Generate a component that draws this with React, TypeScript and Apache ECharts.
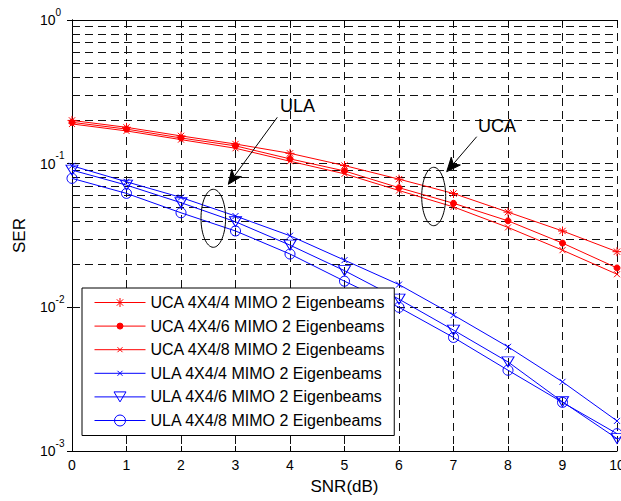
import React, { useEffect, useRef } from 'react';
import * as echarts from 'echarts';

const FONT = '"Liberation Sans", Arial, Helvetica, sans-serif';

const snr = [0, 1, 2, 3, 4, 5, 6, 7, 8, 9, 10];
const uca44 = [0.2, 0.179, 0.156, 0.137, 0.118, 0.097, 0.078, 0.062, 0.046, 0.034, 0.0244];
const uca46 = [0.194, 0.174, 0.151, 0.133, 0.108, 0.089, 0.068, 0.053, 0.04, 0.028, 0.0188];
const uca48 = [0.189, 0.169, 0.147, 0.128, 0.104, 0.085, 0.065, 0.05, 0.036, 0.025, 0.017];
const ula44 = [0.0967, 0.0748, 0.0582, 0.0432, 0.0315, 0.0213, 0.0144, 0.00883, 0.00531, 0.00303, 0.00162];
const ula46 = [0.0902, 0.0709, 0.0535, 0.0394, 0.0271, 0.018, 0.0114, 0.00694, 0.00417, 0.0022, 0.00122];
const ula48 = [0.079, 0.0621, 0.0455, 0.034, 0.0235, 0.0152, 0.01, 0.00617, 0.00365, 0.00218, 0.00132];

const seriesNames = [
  'UCA 4X4/4 MIMO 2 Eigenbeams',
  'UCA 4X4/6 MIMO 2 Eigenbeams',
  'UCA 4X4/8 MIMO 2 Eigenbeams',
  'ULA 4X4/4 MIMO 2 Eigenbeams',
  'ULA 4X4/6 MIMO 2 Eigenbeams',
  'ULA 4X4/8 MIMO 2 Eigenbeams',
];

const yDecades = [0.001, 0.01, 0.1];
const gridMultipliers = [1, 2, 3, 4, 5, 6, 7, 8, 9];
const annotationLabels = ['ULA', 'UCA'];

const RED = '#ff0000';
const BLUE = '#0000ff';

const asteriskSym = 'path://M0,-5L0,5M-5,0L5,0M-3.5,-3.5L3.5,3.5M-3.5,3.5L3.5,-3.5';
const xSym = 'path://M-1,-1L1,1M-1,1L1,-1';

const LINE = 'M0,8L51,8';
const legendIcons = [
  'path://' + LINE + 'M25.5,3.5L25.5,12.5M21,8L30,8M22.3,4.8L28.7,11.2M22.3,11.2L28.7,4.8',
  'path://' + LINE + 'M28.5,8A3,3 0 1 1 22.5,8A3,3 0 1 1 28.5,8Z',
  'path://' + LINE + 'M23,5.5L28,10.5M23,10.5L28,5.5',
  'path://' + LINE + 'M23,5.5L28,10.5M23,10.5L28,5.5',
  'path://' + LINE + 'M19.5,3L31.5,3L25.5,13Z',
  'path://' + LINE + 'M31,8A5.5,5.5 0 1 1 20,8A5.5,5.5 0 1 1 31,8Z',
];

function arrow(x1: number, y1: number, x2: number, y2: number) {
  const dx = x2 - x1;
  const dy = y2 - y1;
  const len = Math.hypot(dx, dy);
  const ux = dx / len;
  const uy = dy / len;
  const nx = -uy;
  const ny = ux;
  const L = 14;
  const W = 6;
  const bx = x2 - ux * L;
  const by = y2 - uy * L;
  const nxp = x2 - ux * L * 0.72;
  const nyp = y2 - uy * L * 0.72;
  return [
    {
      type: 'line',
      z: 10,
      shape: { x1, y1, x2: nxp, y2: nyp },
      style: { stroke: '#000', lineWidth: 1 },
    },
    {
      type: 'polygon',
      z: 10,
      shape: {
        points: [
          [x2, y2],
          [bx + nx * W, by + ny * W],
          [nxp, nyp],
          [bx - nx * W, by - ny * W],
        ],
      },
      style: { fill: '#000', stroke: '#000', lineWidth: 1 },
    },
  ];
}

export default function App() {
  const ref = useRef<HTMLDivElement>(null);

  useEffect(() => {
    if (!ref.current) return;
    const chart = echarts.init(ref.current, undefined, { renderer: 'svg' });

    const toData = (arr: number[]) => snr.map((x, i) => [x, arr[i]]);

    const gridLineValues: number[] = [];
    yDecades.forEach((d) => gridMultipliers.forEach((m) => gridLineValues.push(+(d * m).toPrecision(3))));
    const hLines = gridLineValues.filter((v) => v > 0.001 && v < 1);

    const defs = [
      { data: uca44, color: RED, symbol: asteriskSym, size: 9, fill: 'none' },
      { data: uca46, color: RED, symbol: 'circle', size: 6, fill: RED },
      { data: uca48, color: RED, symbol: xSym, size: 6, fill: 'none' },
      { data: ula44, color: BLUE, symbol: xSym, size: 6, fill: 'none' },
      { data: ula46, color: BLUE, symbol: 'triangle', size: [12, 10], fill: 'none', rotate: 180 },
      { data: ula48, color: BLUE, symbol: 'circle', size: 10, fill: 'none' },
    ];

    const series: any[] = defs.map((d, i) => ({
      name: seriesNames[i],
      type: 'line',
      xAxisIndex: 0,
      yAxisIndex: 0,
      data: toData(d.data),
      symbol: d.symbol,
      symbolSize: d.size,
      symbolRotate: d.rotate || 0,
      showSymbol: true,
      z: 3,
      lineStyle: { color: d.color, width: 1 },
      itemStyle: { color: d.fill, borderColor: d.color, borderWidth: 1 },
      emphasis: { disabled: true },
      silent: true,
    }));

    series.push({
      name: '_grid',
      type: 'line',
      xAxisIndex: 0,
      yAxisIndex: 0,
      data: [],
      silent: true,
      markLine: {
        silent: true,
        z: 1,
        symbol: ['none', 'none'],
        label: { show: false },
        lineStyle: { color: '#111', width: 1, type: [8, 5] },
        emphasis: { disabled: true },
        data: hLines.map((v) => ({ yAxis: v })),
      },
    });

    const tickStyle = { color: '#000', width: 1 };

    chart.setOption({
      animation: false,
      backgroundColor: '#fff',
      textStyle: { fontFamily: FONT },
      grid: { left: 72, right: 4, top: 20, bottom: 50, containLabel: false, outerBoundsMode: 'none' },
      xAxis: [
        {
          type: 'value',
          position: 'bottom',
          min: 0,
          max: 10,
          interval: 1,
          name: 'SNR(dB)',
          nameLocation: 'middle',
          nameGap: 27,
          nameTextStyle: { fontSize: 17, color: '#000', fontFamily: FONT },
          axisLine: { show: true, lineStyle: tickStyle },
          axisTick: { show: true, inside: true, length: 5, lineStyle: tickStyle },
          axisLabel: { fontSize: 14, color: '#000', margin: 7, fontFamily: FONT, hideOverlap: false },
          splitLine: { show: true, lineStyle: { color: '#111', width: 1, type: [8, 5] } },
        },
        {
          type: 'value',
          position: 'top',
          min: 0,
          max: 10,
          interval: 1,
          axisLine: { show: true, lineStyle: tickStyle },
          axisTick: { show: true, inside: true, length: 5, lineStyle: tickStyle },
          axisLabel: { show: false },
          splitLine: { show: false },
        },
      ],
      yAxis: [
        {
          type: 'log',
          logBase: 10,
          position: 'left',
          min: 0.001,
          max: 1,
          name: 'SER',
          nameLocation: 'middle',
          nameGap: 44,
          nameRotate: 90,
          nameTextStyle: { fontSize: 17, color: '#000', fontFamily: FONT },
          axisLine: { show: true, lineStyle: tickStyle },
          axisTick: { show: true, inside: true, length: 5, lineStyle: tickStyle },
          splitLine: { show: false },
          axisLabel: {
            align: 'left',
            margin: 32,
            formatter: (v: number) => `{b|10}{s|${Math.round(Math.log10(v))}}`,
            rich: {
              b: { fontSize: 14, lineHeight: 26, color: '#000', fontFamily: FONT },
              s: { fontSize: 10, lineHeight: 11, verticalAlign: 'top', color: '#000', fontFamily: FONT },
            },
          },
        },
        {
          type: 'log',
          logBase: 10,
          position: 'right',
          min: 0.001,
          max: 1,
          axisLine: { show: true, lineStyle: tickStyle },
          axisTick: { show: true, inside: true, length: 5, lineStyle: tickStyle },
          axisLabel: { show: false },
          splitLine: { show: false },
        },
      ],
      legend: {
        orient: 'vertical',
        left: 82,
        top: 288,
        itemWidth: 51,
        itemHeight: 16,
        itemGap: 7.6,
        padding: [6.5, 9, 7, 10],
        backgroundColor: '#fff',
        borderColor: '#000',
        borderWidth: 1,
        borderRadius: 0,
        selectedMode: false,
        textStyle: { fontSize: 16, color: '#000', fontFamily: FONT, lineHeight: 16 },
        data: seriesNames.map((n, i) => ({
          name: n,
          icon: legendIcons[i],
          itemStyle: { color: defs[i].fill, borderColor: defs[i].color, borderWidth: 1 },
        })),
      },
      graphic: [
        {
          type: 'ellipse',
          z: 10,
          shape: { cx: 213.3, cy: 218.3, rx: 12.3, ry: 29 },
          style: { fill: 'none', stroke: '#000', lineWidth: 1 },
        },
        {
          type: 'ellipse',
          z: 10,
          shape: { cx: 433.7, cy: 196.5, rx: 12, ry: 29.2 },
          style: { fill: 'none', stroke: '#000', lineWidth: 1 },
        },
        ...arrow(277.3, 117.3, 228.3, 184.3),
        ...arrow(476.7, 136.7, 446.7, 171.7),
        {
          type: 'text',
          z: 10,
          x: 280,
          y: 106,
          style: { text: annotationLabels[0], fontSize: 18, fill: '#000', fontFamily: FONT, verticalAlign: 'middle', align: 'left' },
        },
        {
          type: 'text',
          z: 10,
          x: 478,
          y: 126,
          style: { text: annotationLabels[1], fontSize: 18, fill: '#000', fontFamily: FONT, verticalAlign: 'middle', align: 'left' },
        },
      ],
      series,
    });

    return () => chart.dispose();
  }, []);

  return (
    <div
      ref={ref}
      style={{ position: 'fixed', left: 0, top: 0, width: 621, height: 501, background: '#fff' }}
    />
  );
}
